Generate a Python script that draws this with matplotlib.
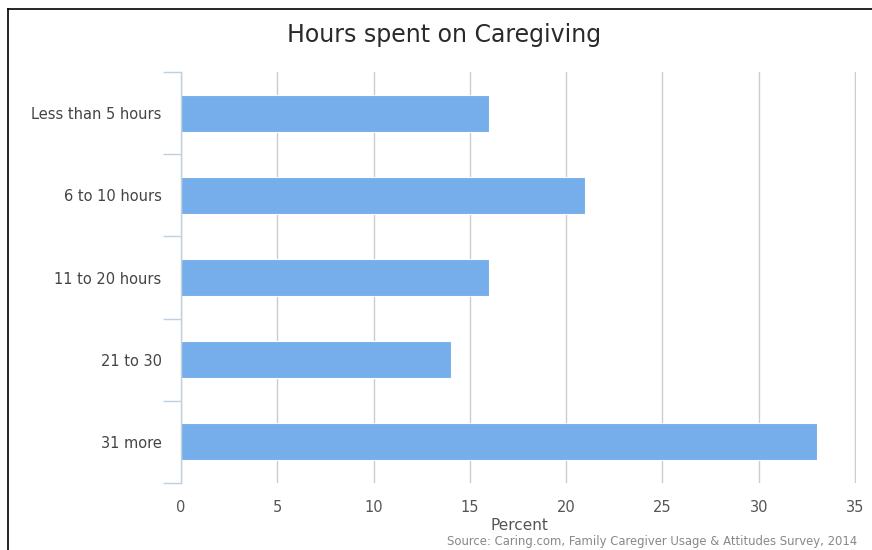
import matplotlib.pyplot as plt
from matplotlib.lines import Line2D

categories = ['Less than 5 hours', '6 to 10 hours', '11 to 20 hours', '21 to 30', '31 more']
percent = [16, 21, 16, 14, 33]
x_ticks = [0, 5, 10, 15, 20, 25, 30, 35]

fig = plt.figure(figsize=(8.72, 5.5), dpi=100)
ax = fig.add_axes([181 / 872, 1 - 483 / 550, 675 / 872, 411 / 550])

ypos = list(range(len(categories)))
ax.barh(ypos, percent, height=0.45, color='#75aeea', edgecolor='white', linewidth=0.8, zorder=3)

ax.set_xlim(0, 35.05)
ax.set_ylim(len(categories) - 0.5, -0.5)
ax.set_xticks(x_ticks)
ax.set_xticklabels([str(v) for v in x_ticks], color='#555555', fontsize=10.5)
ax.tick_params(axis='x', length=0, pad=12)

# category labels in the middle, tick marks on the band edges
ax.set_yticks(ypos)
ax.set_yticklabels(categories, color='#444444', fontsize=10.5)
ax.tick_params(axis='y', which='major', length=0, pad=14)
ax.set_yticks([i - 0.5 for i in range(len(categories) + 1)], minor=True)
ax.tick_params(axis='y', which='minor', length=13, color='#c0d0e0', width=1)

ax.grid(axis='x', color='#cccccc', linewidth=1, zorder=0)
for s in ['top', 'right', 'bottom']:
    ax.spines[s].set_visible(False)
ax.spines['left'].set_color('#c0d0e0')
ax.spines['left'].set_linewidth(1)
ax.spines['left'].set_zorder(5)

fig.text(444 / 872, 1 - 35 / 550, 'Hours spent on Caregiving', ha='center', va='center',
         fontsize=17, color='#2a2a2a')
fig.text(519 / 872, 1 - 526 / 550, 'Percent', ha='center', va='center',
         fontsize=11, color='#555555')
fig.text(857 / 872, 1 - 542 / 550, 'Source: Caring.com, Family Caregiver Usage & Attitudes Survey, 2014',
         ha='right', va='center', fontsize=8.4, color='#888888')

# frame lines of the screenshot
fig.add_artist(Line2D([8 / 872, 8 / 872], [0, 1 - 9 / 550], color='black', linewidth=1.2))
fig.add_artist(Line2D([8 / 872, 1], [1 - 9 / 550, 1 - 9 / 550], color='black', linewidth=1.2))

fig.savefig('out.png', dpi=100)
